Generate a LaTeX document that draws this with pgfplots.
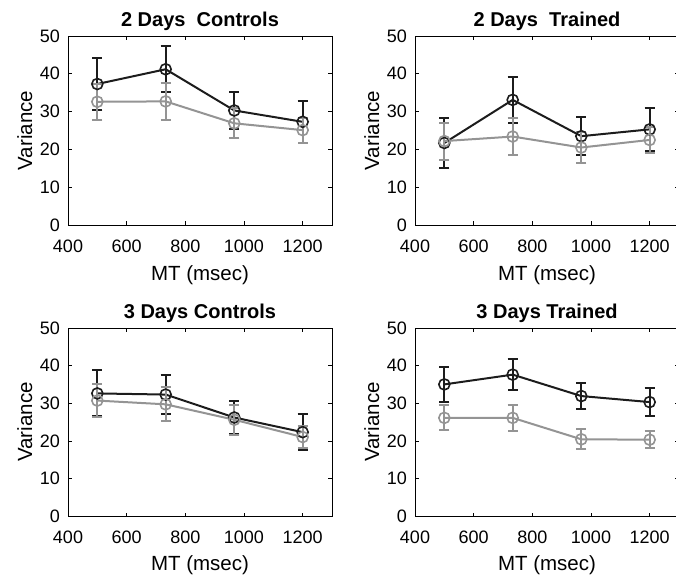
\documentclass[border=0pt]{standalone}
\usepackage{fontspec}
\setmainfont{Liberation Sans}
\usepackage{pgfplots}
\pgfplotsset{compat=1.18}
\definecolor{dk}{RGB}{28,28,28}
\definecolor{gr}{RGB}{148,148,148}
\pgfplotsset{
  panel/.style={
    scale only axis, width=264pt, height=189pt,
    xmin=400, xmax=1300, ymin=0, ymax=50,
    xtick={400,600,...,1200}, ytick={0,10,...,50},
    tick align=inside, major tick length=3.5pt,
    axis line style={line width=0.6pt, black},
    every tick/.style={line width=0.6pt, black},
    tick label style={font=\fontsize{18}{22}\selectfont},
    xticklabel style={anchor=base, yshift=-27.5pt},
    yticklabel style={anchor=east, inner sep=0pt, xshift=-8pt},
    label style={font=\fontsize{20.5}{24}\selectfont},
    xlabel={MT (msec)}, ylabel={Variance},
    xlabel style={at={(axis description cs:0.5,-0.292)}, anchor=base},
    ylabel style={at={(axis description cs:-0.136,0.5)}, anchor=base},
    title style={font=\fontsize{20}{24}\selectfont\bfseries,
      at={(axis description cs:0.5,1.048)}, anchor=base, yshift=-6pt},
    /pgf/number format/assume math mode=true,
    /pgf/number format/1000 sep={},
    clip=false,
  },
  ser/.style={color=#1, line width=2pt, mark=o, mark size=5.5pt,
    mark options={solid, line width=1.6pt},
    error bars/.cd, y dir=both, y explicit,
    error bar style={line width=2pt, color=#1},
    error mark options={rotate=90, mark size=5pt, line width=2pt, color=#1}},
}
\begin{document}
\begin{tikzpicture}

% 2 days controls
\begin{axis}[panel, at={(68pt,351pt)}, title={2 Days~~Controls}]
\addplot[ser=dk] coordinates {
  (500,37.3) +- (0,6.9)
  (733,41.2) +- (0,6.1)
  (967,30.3) +- (0,4.8)
  (1200,27.3) +- (0,5.5)
};
\addplot[ser=gr] coordinates {
  (500,32.6) +- (0,4.8)
  (733,32.7) +- (0,4.9)
  (967,26.9) +- (0,4.0)
  (1200,25.1) +- (0,3.3)
};
\end{axis}

% 2 days trained
\begin{axis}[panel, at={(415pt,351pt)}, title={2 Days~~Trained}]
\addplot[ser=dk] coordinates {
  (500,21.7) +- (0,6.7)
  (733,33.1) +- (0,6.0)
  (967,23.5) +- (0,5.0)
  (1200,25.3) +- (0,5.6)
};
\addplot[ser=gr] coordinates {
  (500,22.2) +- (0,4.9)
  (733,23.4) +- (0,4.8)
  (967,20.5) +- (0,4.2)
  (1200,22.5) +- (0,3.5)
};
\end{axis}

% 3 days controls
\begin{axis}[panel, height=188pt, at={(68pt,60pt)}, title={3 Days Controls}]
\addplot[ser=dk] coordinates {
  (500,32.6) +- (0,6.1)
  (733,32.3) +- (0,5.3)
  (967,26.2) +- (0,4.5)
  (1200,22.3) +- (0,4.7)
};
\addplot[ser=gr] coordinates {
  (500,30.7) +- (0,4.4)
  (733,29.7) +- (0,4.5)
  (967,25.6) +- (0,4.0)
  (1200,21.0) +- (0,3.0)
};
\end{axis}

% 3 days trained
\begin{axis}[panel, height=188pt, at={(415pt,60pt)}, title={3 Days Trained}]
\addplot[ser=dk] coordinates {
  (500,35.0) +- (0,4.7)
  (733,37.6) +- (0,4.1)
  (967,31.9) +- (0,3.4)
  (1200,30.3) +- (0,3.8)
};
\addplot[ser=gr] coordinates {
  (500,26.1) +- (0,3.3)
  (733,26.1) +- (0,3.4)
  (967,20.4) +- (0,2.7)
  (1200,20.3) +- (0,2.3)
};
\end{axis}

\pgfresetboundingbox
\path[use as bounding box] (0,0) rectangle (676pt,576pt);
\end{tikzpicture}
\end{document}
